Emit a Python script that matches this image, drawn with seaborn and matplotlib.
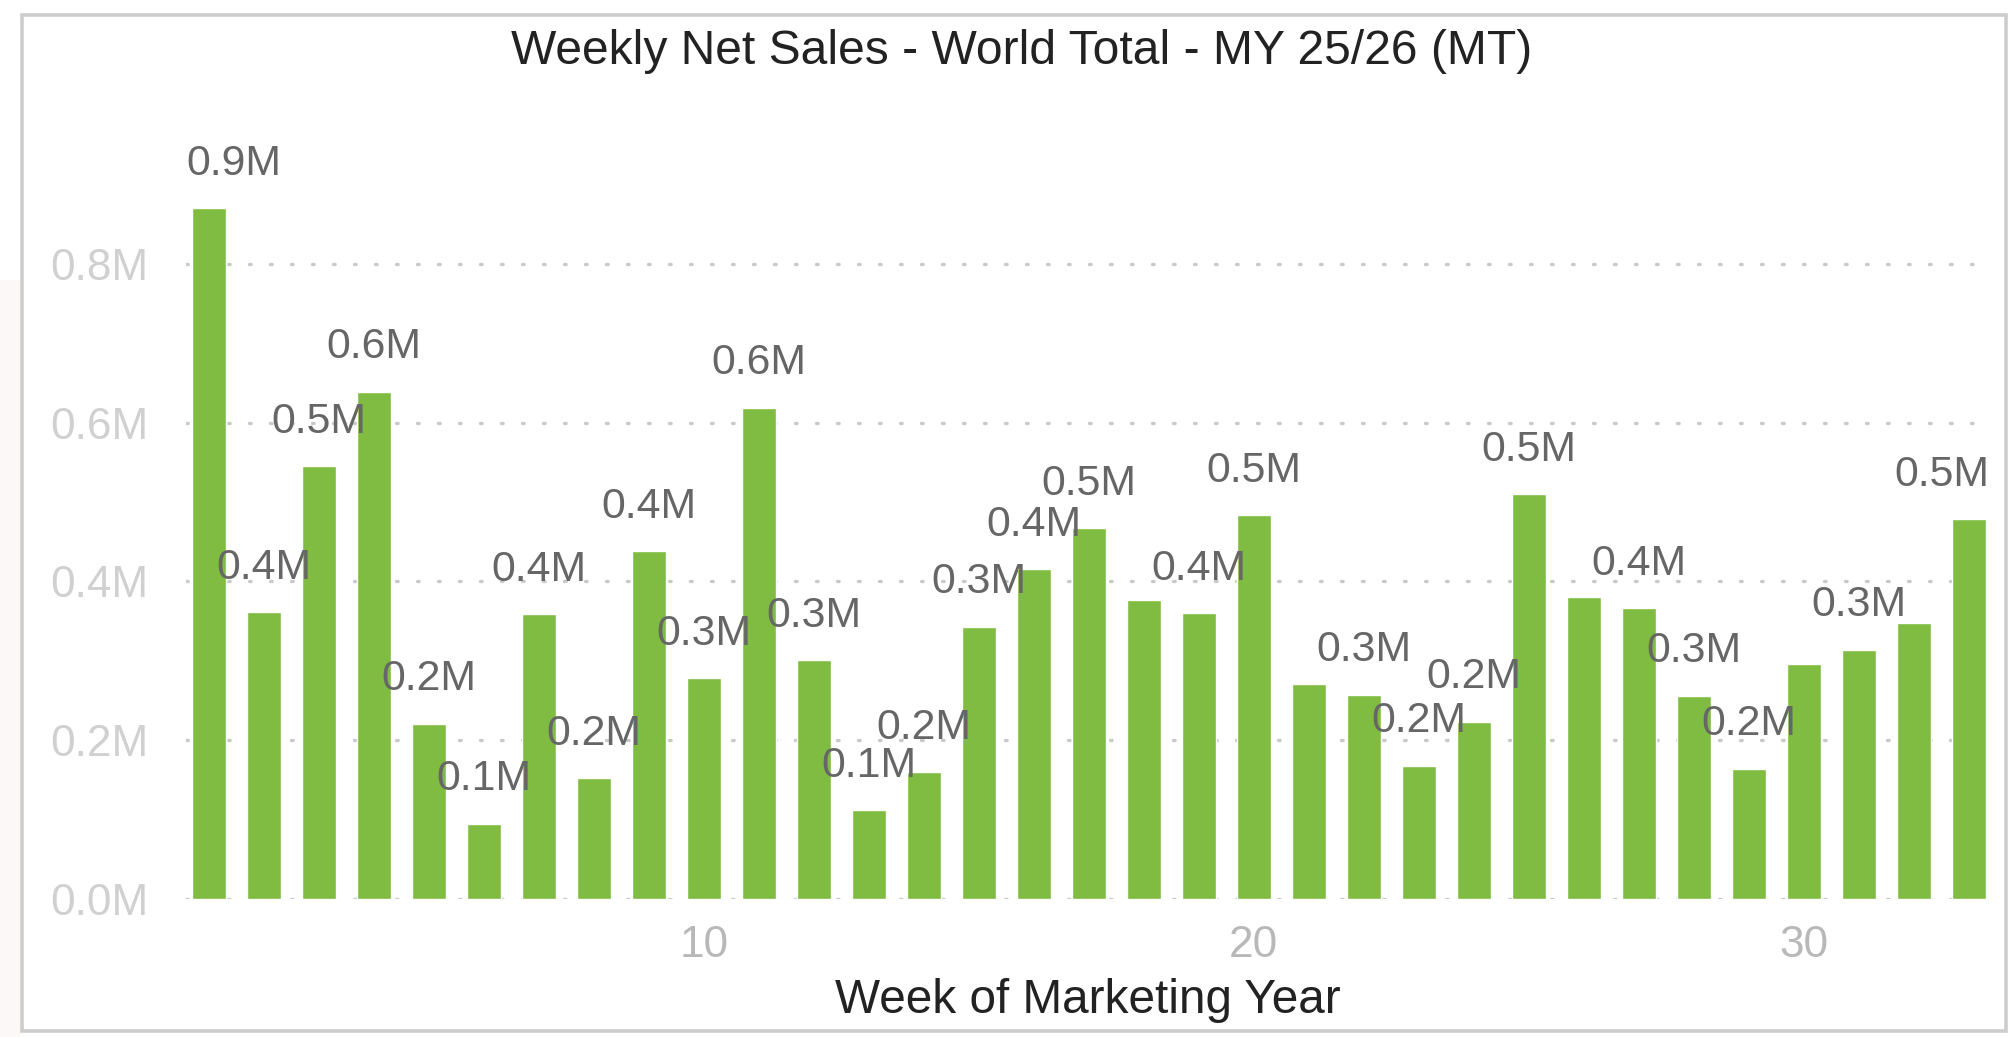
import numpy as np
import pandas as pd
import matplotlib
matplotlib.use("Agg")
import matplotlib.pyplot as plt
from matplotlib.patches import Rectangle
from matplotlib.ticker import FuncFormatter
import seaborn as sns

# Weekly net sales, world total, MY 25/26 (metric tonnes)
weeks = list(range(1, 34))
net_sales_mt = [870000, 361000, 545000, 639000, 221000, 95000, 359000, 152000,
                438000, 278000, 619000, 301000, 112000, 160000, 343000, 415000,
                467000, 376000, 360000, 483000, 271000, 257000, 168000, 223000,
                510000, 380000, 366000, 256000, 164000, 296000, 314000, 347000,
                478000]
# labels the original chart drops because they collide with a neighbour
hidden_label_weeks = [18, 21, 26, 30, 32]
y_ticks = [0, 200000, 400000, 600000, 800000]
x_ticks = [10, 20, 30]

title = "Weekly Net Sales - World Total - MY 25/26 (MT)"
x_title = "Week of Marketing Year"

bar_color = "#80bc42"
grid_color = "#c9c9c9"
label_offset = 32  # points above bar top

df = pd.DataFrame({"week": weeks, "net_sales": net_sales_mt})

sns.set_theme(style="white")
plt.rcParams["font.family"] = ["Liberation Sans", "DejaVu Sans"]

W, H, DPI = 2009, 1037, 100
fig = plt.figure(figsize=(W / DPI, H / DPI), dpi=DPI)
fig.patch.set_facecolor("white")

# faint strip left of the frame and the gray frame itself
fig.patches.append(Rectangle((0, 0), 21 / W, 0.73, transform=fig.transFigure,
                             facecolor="#fbf8f7", edgecolor="none", zorder=0))
fig.patches.append(Rectangle((22 / W, 6 / H), (2006 - 22) / W, (1022 - 6) / H,
                             transform=fig.transFigure, facecolor="none",
                             edgecolor="#cdcdcd", linewidth=2.6, zorder=1))

ax = fig.add_axes([186 / W, (H - 899) / H, (1989 - 186) / W, (899 - 105) / H])
ax.set_facecolor("none")

sns.barplot(data=df, x="week", y="net_sales", native_scale=True, width=0.62,
            color=bar_color, saturation=1, ax=ax, zorder=3, errorbar=None)

ax.set_xlim(0.58, 33.37)
ax.set_ylim(0, 1000000)

for t in y_ticks:
    ax.axhline(t, color=grid_color, lw=2.4, ls=(0, (0.5, 5.8)),
               dash_capstyle="round", zorder=1)

ax.set_yticks(y_ticks)
ax.yaxis.set_major_formatter(FuncFormatter(lambda v, p: f"{v / 1e6:.1f}M"))
ax.set_xticks(x_ticks)
ax.set_xticklabels([str(t) for t in x_ticks])
ax.tick_params(axis="y", length=0, pad=27, labelsize=31.8, labelcolor="#d0d0d0")
ax.tick_params(axis="x", length=0, pad=19, labelsize=31.8, labelcolor="#b8b8b8")
for s in ax.spines.values():
    s.set_visible(False)

ax.set_xlabel(x_title, fontsize=34.4, color="#222222", labelpad=8.5)
ax.set_ylabel("")

fig.text(1022 / W, 1 - 51 / H, title, fontsize=34.6, color="#222222",
         ha="center", va="center")

# value labels above bars
labels = []
for wk, v in zip(weeks, net_sales_mt):
    if wk in hidden_label_weeks:
        continue
    a = ax.annotate(f"{v / 1e6:.1f}M", xy=(wk, v), xytext=(0, label_offset),
                    textcoords="offset points", ha="center", va="center",
                    fontsize=30.9, color="#666666", zorder=4)
    labels.append(a)

# keep labels inside the plot area
fig.canvas.draw()
r = fig.canvas.get_renderer()
for a in labels:
    bb = a.get_window_extent(r)
    dx = 0
    if bb.x0 < ax.bbox.x0:
        dx = ax.bbox.x0 - bb.x0
    elif bb.x1 > ax.bbox.x1:
        dx = ax.bbox.x1 - bb.x1
    if dx:
        a.xyann = (dx * 72 / DPI, label_offset)

fig.savefig("out.png", dpi=DPI)
